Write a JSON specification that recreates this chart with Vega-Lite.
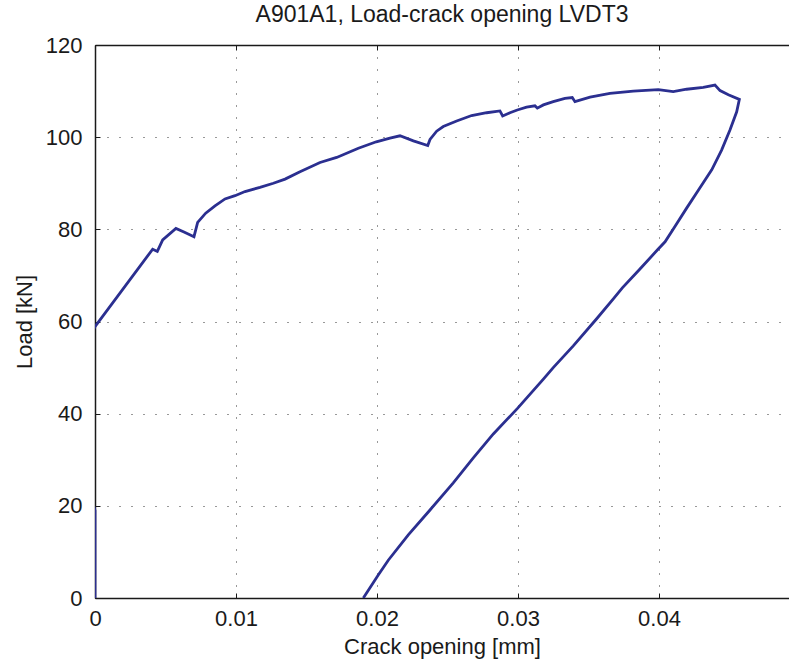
{
  "$schema": "https://vega.github.io/schema/vega-lite/v6.json",
  "width": 694,
  "height": 553,
  "autosize": "none",
  "padding": {"left": 95, "top": 45, "right": 0, "bottom": 71},
  "background": "white",
  "title": {"text": "A901A1, Load-crack opening LVDT3", "font": "Liberation Sans", "fontSize": 23, "fontWeight": "normal", "color": "#1a1a1a", "offset": 7, "anchor": "middle"},
  "data": {"values": [
    {"i": 0, "x": 0, "y": 0},
    {"i": 1, "x": 0, "y": 19},
    {"i": 2, "x": -0.0003, "y": 22},
    {"i": 3, "x": -0.0003, "y": 57},
    {"i": 4, "x": 0, "y": 58.9},
    {"i": 5, "x": 0.00409, "y": 75.7},
    {"i": 6, "x": 0.00442, "y": 75.2},
    {"i": 7, "x": 0.0048, "y": 77.7},
    {"i": 8, "x": 0.00574, "y": 80.2},
    {"i": 9, "x": 0.00631, "y": 79.4},
    {"i": 10, "x": 0.00702, "y": 78.4},
    {"i": 11, "x": 0.00728, "y": 81.5},
    {"i": 12, "x": 0.00785, "y": 83.5},
    {"i": 13, "x": 0.00851, "y": 85.1},
    {"i": 14, "x": 0.00922, "y": 86.6},
    {"i": 15, "x": 0.00993, "y": 87.3},
    {"i": 16, "x": 0.01064, "y": 88.2},
    {"i": 17, "x": 0.0117, "y": 89.1},
    {"i": 18, "x": 0.01265, "y": 90.0},
    {"i": 19, "x": 0.01348, "y": 90.9},
    {"i": 20, "x": 0.01454, "y": 92.5},
    {"i": 21, "x": 0.01596, "y": 94.5},
    {"i": 22, "x": 0.01714, "y": 95.6},
    {"i": 23, "x": 0.01868, "y": 97.6},
    {"i": 24, "x": 0.01995, "y": 99.0},
    {"i": 25, "x": 0.02092, "y": 99.8},
    {"i": 26, "x": 0.02163, "y": 100.3},
    {"i": 27, "x": 0.02258, "y": 99.2},
    {"i": 28, "x": 0.0236, "y": 98.2},
    {"i": 29, "x": 0.02376, "y": 99.5},
    {"i": 30, "x": 0.02423, "y": 101.3},
    {"i": 31, "x": 0.0247, "y": 102.3},
    {"i": 32, "x": 0.02565, "y": 103.5},
    {"i": 33, "x": 0.02671, "y": 104.7},
    {"i": 34, "x": 0.02778, "y": 105.3},
    {"i": 35, "x": 0.02872, "y": 105.7},
    {"i": 36, "x": 0.02891, "y": 104.6},
    {"i": 37, "x": 0.02943, "y": 105.3},
    {"i": 38, "x": 0.02995, "y": 105.9},
    {"i": 39, "x": 0.03061, "y": 106.5},
    {"i": 40, "x": 0.0312, "y": 106.8},
    {"i": 41, "x": 0.03137, "y": 106.3},
    {"i": 42, "x": 0.0318, "y": 107.0},
    {"i": 43, "x": 0.0325, "y": 107.7},
    {"i": 44, "x": 0.03333, "y": 108.4},
    {"i": 45, "x": 0.03385, "y": 108.6},
    {"i": 46, "x": 0.03404, "y": 107.7},
    {"i": 47, "x": 0.03511, "y": 108.7},
    {"i": 48, "x": 0.03652, "y": 109.5},
    {"i": 49, "x": 0.03818, "y": 110.0},
    {"i": 50, "x": 0.03995, "y": 110.3},
    {"i": 51, "x": 0.04101, "y": 109.9},
    {"i": 52, "x": 0.04196, "y": 110.4},
    {"i": 53, "x": 0.04314, "y": 110.8},
    {"i": 54, "x": 0.04397, "y": 111.3},
    {"i": 55, "x": 0.04433, "y": 110.1},
    {"i": 56, "x": 0.04492, "y": 109.2},
    {"i": 57, "x": 0.0457, "y": 108.2},
    {"i": 58, "x": 0.04551, "y": 105.5},
    {"i": 59, "x": 0.04504, "y": 101.6},
    {"i": 60, "x": 0.04444, "y": 97.2},
    {"i": 61, "x": 0.04374, "y": 92.9},
    {"i": 62, "x": 0.04279, "y": 88.5},
    {"i": 63, "x": 0.04196, "y": 84.6},
    {"i": 64, "x": 0.04113, "y": 80.6},
    {"i": 65, "x": 0.04043, "y": 77.3},
    {"i": 66, "x": 0.03988, "y": 75.5},
    {"i": 67, "x": 0.03865, "y": 71.4},
    {"i": 68, "x": 0.03740, "y": 67.3},
    {"i": 69, "x": 0.03676, "y": 64.9},
    {"i": 70, "x": 0.03558, "y": 60.6},
    {"i": 71, "x": 0.03392, "y": 54.7},
    {"i": 72, "x": 0.0325, "y": 50.0},
    {"i": 73, "x": 0.0318, "y": 47.5},
    {"i": 74, "x": 0.02998, "y": 41.2},
    {"i": 75, "x": 0.02825, "y": 35.6},
    {"i": 76, "x": 0.02683, "y": 30.4},
    {"i": 77, "x": 0.02541, "y": 25.0},
    {"i": 78, "x": 0.02376, "y": 19.1},
    {"i": 79, "x": 0.02222, "y": 13.7},
    {"i": 80, "x": 0.0208, "y": 8.2},
    {"i": 81, "x": 0.02009, "y": 5.0},
    {"i": 82, "x": 0.01903, "y": 0}
  ]},
  "config": {
    "view": {"stroke": null},
    "axis": {
      "labelFont": "Liberation Sans",
      "labelFontSize": 22,
      "labelColor": "#1a1a1a",
      "labelFlush": false,
      "labelOverlap": false,
      "titleFont": "Liberation Sans",
      "titleFontSize": 22,
      "titleFontWeight": "normal",
      "titleColor": "#1a1a1a",
      "domainColor": "#1a1a1a",
      "domainWidth": 1.5,
      "tickColor": "#1a1a1a",
      "tickWidth": 1,
      "tickSize": -5,
      "gridColor": "#333333",
      "gridDash": [1, 11],
      "gridWidth": 1,
      "gridOpacity": 1
    }
  },
  "layer": [
    {
      "mark": {"type": "line", "color": "#2b2f90", "strokeWidth": 2.8, "clip": true},
      "encoding": {
        "x": {"field": "x", "type": "quantitative",
              "scale": {"domain": [0, 0.04922], "nice": false, "zero": false},
              "axis": {"orient": "bottom", "title": "Crack opening [mm]", "values": [0, 0.01, 0.02, 0.03, 0.04], "format": "~g", "grid": true, "labelPadding": 15, "titlePadding": 7}},
        "y": {"field": "y", "type": "quantitative",
              "scale": {"domain": [0, 120], "nice": false, "zero": false},
              "axis": {"orient": "left", "title": "Load [kN]", "values": [0, 20, 40, 60, 80, 100, 120], "grid": true, "labelPadding": 18, "titlePadding": 9}},
        "order": {"field": "i", "type": "quantitative"}
      }
    },
    {
      "mark": {"type": "line", "opacity": 0, "clip": true},
      "encoding": {
        "x": {"field": "x", "type": "quantitative",
              "scale": {"domain": [0, 0.04922], "nice": false, "zero": false},
              "axis": {"orient": "top", "title": null, "labels": false, "values": [0, 0.01, 0.02, 0.03, 0.04], "grid": false}},
        "y": {"field": "y", "type": "quantitative",
              "scale": {"domain": [0, 120], "nice": false, "zero": false},
              "axis": null},
        "order": {"field": "i", "type": "quantitative"}
      }
    }
  ],
  "resolve": {"axis": {"x": "independent", "y": "independent"}}
}
